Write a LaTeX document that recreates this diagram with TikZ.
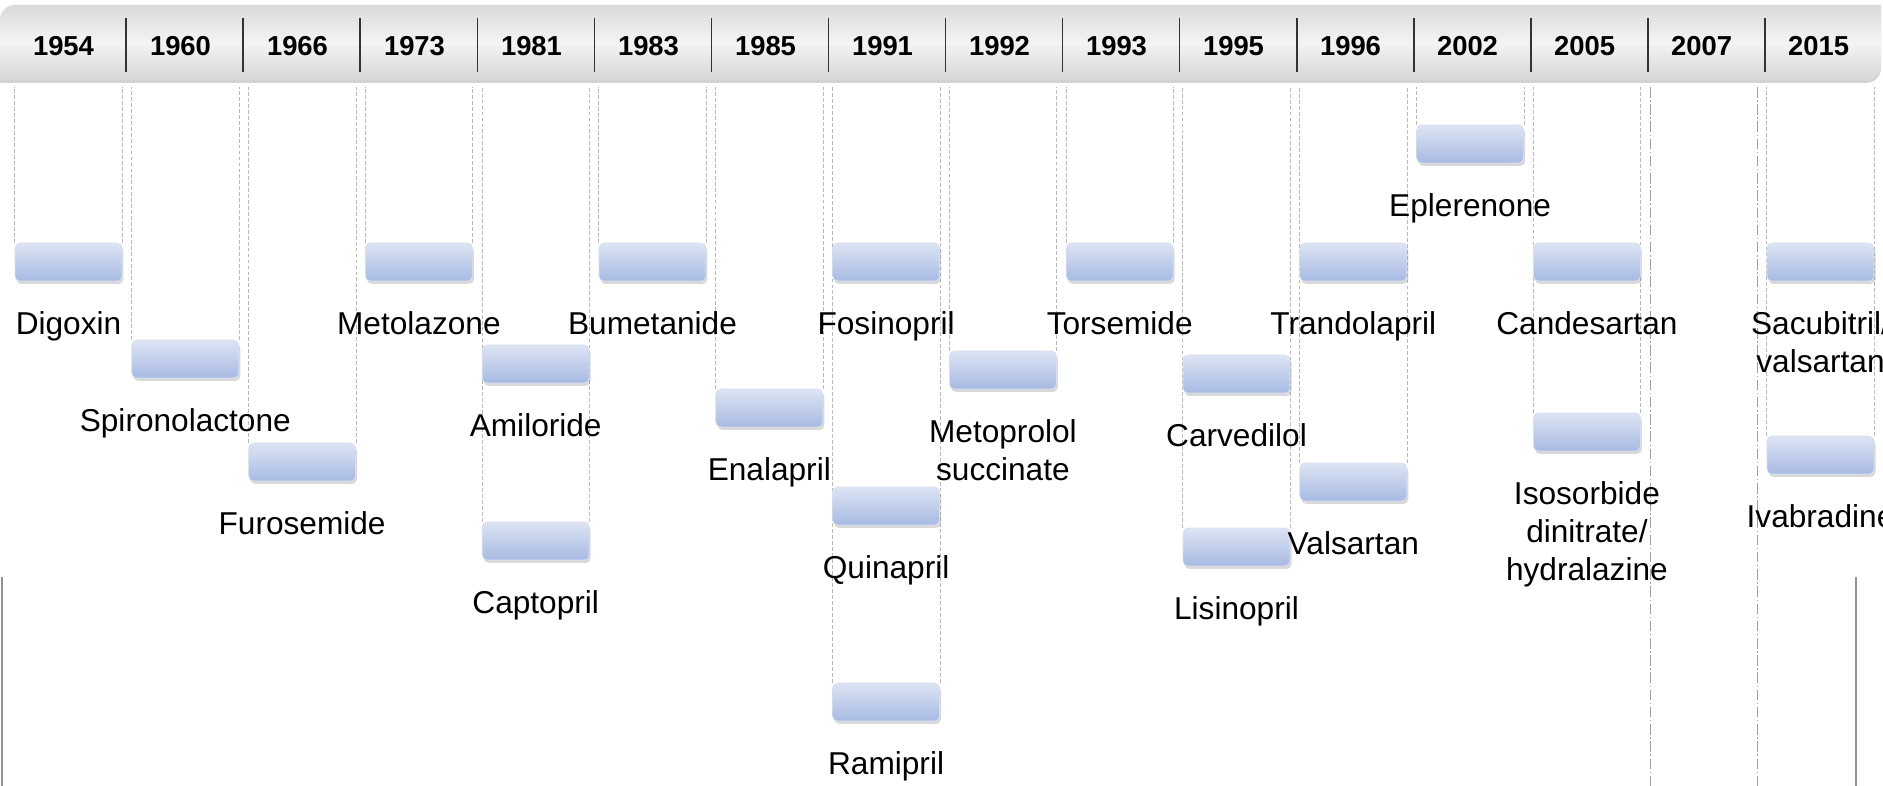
\documentclass[tikz,border=0pt]{standalone}
\usepackage{fontspec}
\setmainfont{Liberation Sans}
\usetikzlibrary{positioning,shadows,backgrounds}

\definecolor{boxtop}{RGB}{221,228,243}
\definecolor{boxbottom}{RGB}{167,186,227}
\definecolor{boxedge}{RGB}{214,222,240}
\definecolor{bartop}{RGB}{218,218,218}
\definecolor{barmid}{RGB}{244,244,244}
\definecolor{barbottom}{RGB}{214,214,214}

\tikzset{
  drug/.style={rounded corners=0.1cm, minimum width=2.14cm, minimum height=0.76cm,
    inner sep=0pt, draw=boxedge, line width=0.4pt,
    top color=boxtop, bottom color=boxbottom,
    drop shadow={shadow xshift=0.03cm, shadow yshift=-0.06cm, opacity=0.3}},
  drugname/.style={font=\fontsize{18}{21.5}\selectfont, align=center, inner sep=0pt},
  year/.style={font=\fontsize{15.6}{18}\selectfont\bfseries, inner sep=0pt},
  guide/.style={draw=gray!55, line width=0.4pt, dash pattern=on 2.2pt off 1.2pt},
  marker/.style={draw=gray!75, line width=0.4pt, dash pattern=on 6pt off 1.5pt on 0.8pt off 1.5pt},
  divider/.style={draw=black!80, line width=0.03cm},
  frame/.style={draw=gray!85, line width=0.05cm}
}

\begin{document}
\begin{tikzpicture}[x=0.02cm, y=-0.02cm]
  \useasboundingbox (0,0) rectangle (1883,786);
  \clip (0,0) rectangle (1883,786);

  % Year bar
  \shade[top color=bartop, bottom color=barbottom, middle color=barmid,
         drop shadow={shadow xshift=0cm, shadow yshift=-0.06cm, opacity=0.35}]
    (0,80) -- (0,20) arc[start angle=180, end angle=90, radius=0.3cm]
    -- (1881,5) -- (1881,65) arc[start angle=0, end angle=-90, radius=0.3cm] -- cycle;
  \foreach \k in {1,...,15}
    \draw[divider] ({9+\k*117.07},18) -- ({9+\k*117.07},72);
  \foreach \yr [count=\j from 0] in {1954,1960,1966,1973,1981,1983,1985,1991,1992,1993,1995,1996,2002,2005,2007,2015}
    \node[year] (y\yr) at ({63.5+\j*117},46.5) {\yr};

  % Columns
  \coordinate (barfoot) at (0,87);
  \coordinate (floor) at (0,786);
  \foreach \i in {0,...,15}
    \coordinate (col\i) at ({68.5+\i*116.8},0);

  % Drugs
  \node[drug] (dig) at (col0 |- 0,262) {};
  \node[drug] (spi) at (col1 |- 0,359) {};
  \node[drug] (fur) at (col2 |- 0,462) {};
  \node[drug] (met) at (col3 |- 0,262) {};
  \node[drug] (ami) at (col4 |- 0,364) {};
  \node[drug] (cap) at (col4 |- 0,541) {};
  \node[drug] (bum) at (col5 |- 0,262) {};
  \node[drug] (ena) at (col6 |- 0,408) {};
  \node[drug] (fos) at (col7 |- 0,262) {};
  \node[drug] (qui) at (col7 |- 0,506) {};
  \node[drug] (ram) at (col7 |- 0,702) {};
  \node[drug] (mtp) at (col8 |- 0,370) {};
  \node[drug] (tor) at (col9 |- 0,262) {};
  \node[drug] (car) at (col10 |- 0,374) {};
  \node[drug] (lis) at (col10 |- 0,547) {};
  \node[drug] (tra) at (col11 |- 0,262) {};
  \node[drug] (val) at (col11 |- 0,482) {};
  \node[drug] (epl) at (col12 |- 0,144) {};
  \node[drug] (can) at (col13 |- 0,262) {};
  \node[drug] (iso) at (col13 |- 0,432) {};
  \node[drug] (sac) at (col15 |- 0,262) {};
  \node[drug] (iva) at (col15 |- 0,455) {};

  % Names
  \node[drugname, below=0.6cm of dig] (digtxt) {Digoxin};
  \node[drugname, below=0.6cm of spi] (spitxt) {Spironolactone};
  \node[drugname, below=0.6cm of fur] (furtxt) {Furosemide};
  \node[drugname, below=0.6cm of met] (mettxt) {Metolazone};
  \node[drugname, below=0.6cm of ami] (amitxt) {Amiloride};
  \node[drugname, below=0.6cm of cap] (captxt) {Captopril};
  \node[drugname, below=0.6cm of bum] (bumtxt) {Bumetanide};
  \node[drugname, below=0.6cm of ena] (enatxt) {Enalapril};
  \node[drugname, below=0.6cm of fos] (fostxt) {Fosinopril};
  \node[drugname, below=0.6cm of qui] (quitxt) {Quinapril};
  \node[drugname, below=0.6cm of ram] (ramtxt) {Ramipril};
  \node[drugname, below=0.6cm of mtp] (mtptxt) {Metoprolol\\succinate};
  \node[drugname, below=0.6cm of tor] (tortxt) {Torsemide};
  \node[drugname, below=0.6cm of car] (cartxt) {Carvedilol};
  \node[drugname, below=0.6cm of lis] (listxt) {Lisinopril};
  \node[drugname, below=0.6cm of tra] (tratxt) {Trandolapril};
  \node[drugname, below=0.6cm of val] (valtxt) {Valsartan};
  \node[drugname, below=0.6cm of epl] (epltxt) {Eplerenone};
  \node[drugname, below=0.6cm of can] (cantxt) {Candesartan};
  \node[drugname, below=0.6cm of iso] (isotxt) {Isosorbide\\dinitrate/\\hydralazine};
  \node[drugname, below=0.6cm of sac] (sactxt) {Sacubitril/\\valsartan};
  \node[drugname, below=0.6cm of iva] (ivatxt) {Ivabradine};

  % Guides behind the boxes
  \begin{scope}[on background layer]
    \foreach \b in {dig,spi,fur,met,cap,bum,ena,ram,mtp,tor,lis,val,epl,iso,iva} {
      \draw[guide] (\b.north west) -- (\b.north west |- barfoot);
      \draw[guide] (\b.north east) -- (\b.north east |- barfoot);
    }
    % 2007: no box
    \draw[marker] ([xshift=-1.07cm]col14 |- barfoot) -- ([xshift=-1.07cm]col14 |- floor);
    \draw[marker] ([xshift=1.07cm]col14 |- barfoot) -- ([xshift=1.07cm]col14 |- floor);
  \end{scope}

  % Frame
  \draw[frame] (2,577) -- (2,786);
  \draw[frame] (1856,577) -- (1856,786);
\end{tikzpicture}
\end{document}
